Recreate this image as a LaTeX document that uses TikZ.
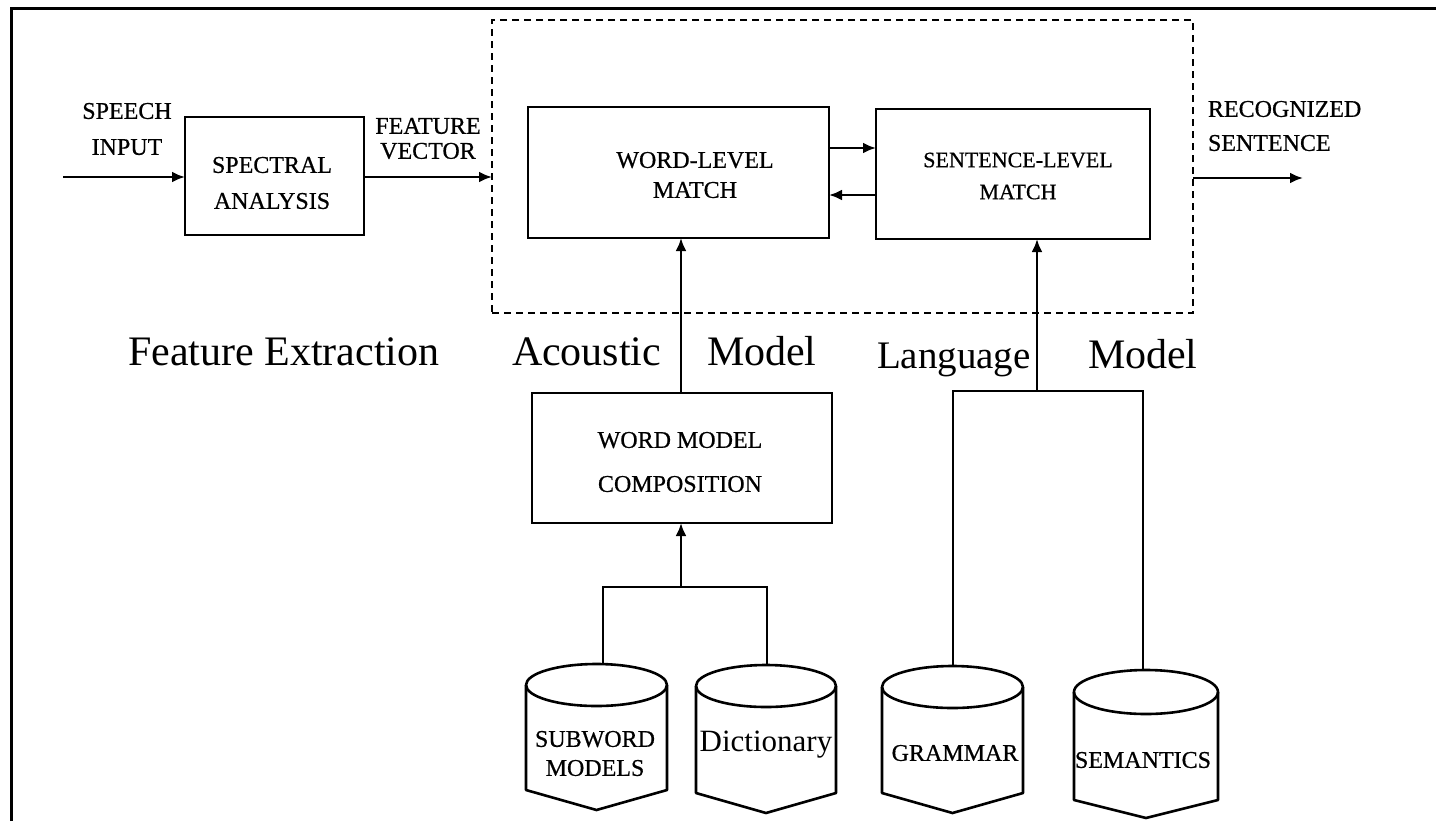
\documentclass[tikz,border=0pt]{standalone}
\usepackage{fontspec}
\setmainfont{Liberation Serif}
\newfontfamily\capfont[FakeBold=0.6]{Liberation Serif}
\usetikzlibrary{arrows.meta}

\begin{document}
\begin{tikzpicture}[x=0.5pt,y=-0.5pt,
  every node/.style={inner sep=0pt, outer sep=0pt},
  blk/.style={draw, line width=1.4pt, rectangle},
  grp/.style={draw, line width=1pt, dash pattern=on 3.5pt off 2.5pt, rectangle},
  cap/.style={font=\capfont\fontsize{12}{#1}\selectfont, align=center},
  big/.style={font=\fontsize{21}{24}\selectfont, anchor=base west},
  wire/.style={line width=1.3pt},
  arr/.style={wire, -{Latex[length=6.5pt,width=5.5pt]}},
  cylline/.style={line width=1.3pt, line join=round}
]
\useasboundingbox (0,0) rectangle (1436,821);

% frame
\draw[line width=1.5pt] (11,821) -- (11,8) -- (1436,8);

% processing blocks
\node[blk, minimum width=89.5pt, minimum height=59pt] (spec) at (274.5,176) {};
\node[grp, minimum width=350.5pt, minimum height=146.5pt] (recog) at (842.5,166.5) {};
\node[blk, minimum width=150.5pt, minimum height=65.5pt] (word) at (678.5,172.5) {};
\node[blk, minimum width=137pt, minimum height=65pt] (sent) at (1013,174) {};
\node[blk, minimum width=150pt, minimum height=65pt] (wmc) at (682,458) {};

% block captions
\node[cap=18] (speechlbl) at (127,129) {SPEECH\\INPUT};
\node[cap=12.5] (featlbl) at (428,138.5) {FEATURE\\VECTOR};
\node[cap=18] (speclbl) at (272,183) {SPECTRAL\\ANALYSIS};
\node[cap=15] (wordlbl) at (695,175) {WORD-LEVEL\\MATCH};
\node[cap=16, font=\capfont\fontsize{11}{16}\selectfont] (sentlbl) at (1018,176) {SENTENCE-LEVEL\\MATCH};
\node[cap=17, align=left, anchor=west] (outlbl) at (1208,126) {RECOGNIZED\\SENTENCE};
\node[cap=22] (wmclbl) at (680,462) {WORD MODEL\\COMPOSITION};

% section titles
\node[big] (fe) at (128,365) {Feature Extraction};
\node[big] (ac) at (512,365) {Acoustic};
\node[big] (acm) at (707,365) {Model};
\node[big, font=\fontsize{19.5}{24}\selectfont] (lang) at (877,368) {Language};
\node[big] (langm) at (1088,368) {Model};

% databases
\draw[cylline] (526,685) -- (526,790) -- (596.5,810) -- (667,790) -- (667,685);
\draw[cylline] (596.5,685) ellipse [x radius=35.25pt, y radius=10.5pt];
\coordinate (subtop) at (603,664);
\node[cap=14.5] (sub) at (595,753.5) {SUBWORD\\MODELS};

\draw[cylline] (696,686) -- (696,793) -- (766,813) -- (836,793) -- (836,686);
\draw[cylline] (766,686) ellipse [x radius=35pt, y radius=10.5pt];
\coordinate (dicttop) at (767,665);
\node[font=\fontsize{15.5}{18}\selectfont] (dict) at (766,745) {Dictionary};

\draw[cylline] (882,687) -- (882,793) -- (952.5,813) -- (1023,793) -- (1023,687);
\draw[cylline] (952.5,687) ellipse [x radius=35.25pt, y radius=10.5pt];
\coordinate (gramtop) at (953,666);
\node[cap=14] (gram) at (955,753) {GRAMMAR};

\draw[cylline] (1074,692) -- (1074,800) -- (1146,818) -- (1218,800) -- (1218,692);
\draw[cylline] (1146,692) ellipse [x radius=36pt, y radius=11pt];
\coordinate (semtop) at (1143,670);
\node[cap=14] (sem) at (1143,760) {SEMANTICS};

% signal path
\coordinate (speechin) at (63,177);
\coordinate (outend) at (1303,178);
\draw[arr] (speechin) -- (speechin -| spec.west);
\draw[arr] (spec.east |- speechin) -- (recog.west |- speechin);
\draw[arr] (word.east |- 0,148) -- (sent.west |- 0,148);
\draw[arr] (sent.west |- 0,195) -- (word.east |- 0,195);
\draw[arr] (recog.east |- outend) -- (outend);

% acoustic model feed
\coordinate (aj) at (681,587);
\draw[wire] (subtop) -- (subtop |- aj) -- (dicttop |- aj) -- (dicttop);
\draw[arr] (aj) -- (aj |- wmc.south);
\draw[arr] (aj |- wmc.north) -- (aj |- word.south);

% language model feed
\coordinate (lj) at (1037,391);
\draw[wire] (gramtop) -- (gramtop |- lj) -- (semtop |- lj) -- (semtop);
\draw[arr] (lj) -- (lj |- sent.south);
\end{tikzpicture}
\end{document}
